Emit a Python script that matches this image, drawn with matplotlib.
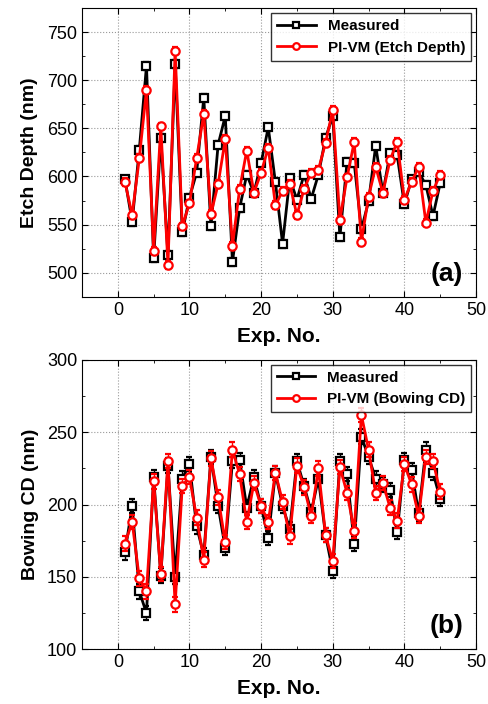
import numpy as np
import matplotlib.pyplot as plt
from matplotlib.ticker import MultipleLocator

plt.rcParams['font.family'] = ['Liberation Sans', 'DejaVu Sans']

exp_no = list(range(1, 46))

# (a) etch depth, nm
etch_measured = [597, 553, 628, 715, 515, 640, 518, 717, 542, 578,
                 604, 682, 548, 633, 663, 511, 567, 602, 583, 614,
                 651, 594, 530, 598, 576, 602, 577, 602, 640, 663,
                 537, 615, 614, 545, 574, 632, 583, 624, 622, 571,
                 597, 605, 591, 559, 593]
etch_pivm = [594, 560, 619, 690, 523, 652, 508, 731, 548, 572,
             619, 665, 561, 592, 639, 528, 587, 627, 583, 604,
             630, 570, 585, 592, 560, 587, 604, 607, 635, 669,
             555, 599, 636, 532, 579, 610, 583, 617, 636, 576,
             594, 610, 552, 585, 602]

# (b) bowing CD, nm
cd_measured = [167, 199, 140, 125, 219, 151, 227, 150, 218, 228,
               185, 165, 233, 199, 170, 230, 231, 198, 219, 199,
               177, 222, 199, 183, 230, 213, 195, 218, 179, 154,
               230, 221, 173, 247, 233, 218, 214, 210, 181, 231,
               224, 194, 238, 222, 204]
cd_pivm = [173, 188, 149, 140, 216, 152, 230, 131, 213, 219,
           191, 162, 232, 205, 174, 238, 221, 188, 215, 199,
           188, 222, 202, 178, 227, 212, 192, 225, 179, 161,
           226, 208, 182, 262, 238, 208, 215, 198, 189, 228,
           214, 192, 233, 230, 209]

etch_err = 4
cd_err = 5

fig = plt.figure(figsize=(4.89, 7.04), dpi=100)
ax_a = fig.add_axes([0.1677, 0.5786, 0.8057, 0.4097])
ax_b = fig.add_axes([0.1677, 0.0777, 0.8057, 0.4110])


def draw_panel(ax, meas, pred, err, pred_label, ylabel, ylim, ymajor, tag):
    c1 = ax.errorbar(exp_no, meas, yerr=err, color='black', lw=2,
                     marker='s', ms=5.5, mfc='white', mec='black', mew=1.6,
                     capsize=2.5, elinewidth=1, capthick=1, zorder=3)
    c2 = ax.errorbar(exp_no, pred, yerr=err, color='red', lw=2,
                     marker='o', ms=6, mfc='white', mec='red', mew=1.6,
                     capsize=2.5, elinewidth=1, capthick=1, zorder=4)
    ax.set_xlim(-5, 50)
    ax.set_ylim(*ylim)
    ax.xaxis.set_major_locator(MultipleLocator(10))
    ax.xaxis.set_minor_locator(MultipleLocator(5))
    ax.yaxis.set_major_locator(MultipleLocator(ymajor))
    ax.yaxis.set_minor_locator(MultipleLocator(ymajor / 2))
    ax.tick_params(which='both', direction='in', top=True, right=True)
    ax.tick_params(which='major', length=4, labelsize=13)
    ax.tick_params(which='minor', length=2.5)
    ax.grid(True, which='major', ls=':', color='#999999', lw=0.8)
    ax.set_xlabel('Exp. No.', fontsize=15, fontweight='bold', labelpad=6)
    ax.set_ylabel(ylabel, fontsize=14, fontweight='bold', labelpad=6)
    leg = ax.legend([c1[0], c2[0]], ['Measured', pred_label], loc='upper right',
                    frameon=True, fancybox=False, edgecolor='black',
                    handlelength=2.5, borderaxespad=0.3, markerscale=0.8,
                    prop={'weight': 'bold', 'size': 11})
    leg.get_frame().set_linewidth(1)
    ax.text(0.925, 0.08, tag, transform=ax.transAxes, fontsize=19,
            fontweight='bold', ha='center', va='center')


draw_panel(ax_a, etch_measured, etch_pivm, etch_err, 'PI-VM (Etch Depth)',
           'Etch Depth (nm)', (475, 775), 50, '(a)')
draw_panel(ax_b, cd_measured, cd_pivm, cd_err, 'PI-VM (Bowing CD)',
           'Bowing CD (nm)', (100, 300), 50, '(b)')

fig.savefig('out.png', dpi=100)
